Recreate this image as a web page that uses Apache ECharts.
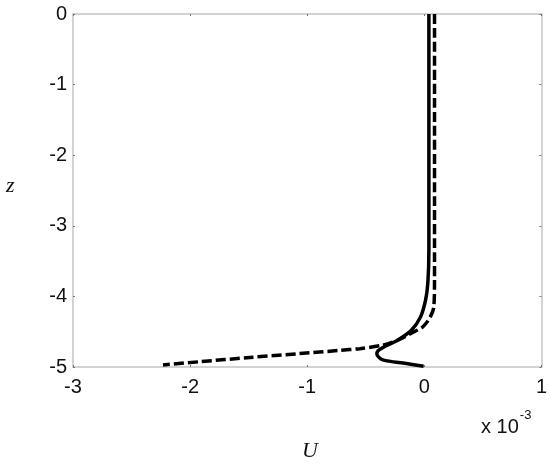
<!DOCTYPE html>
<html>
<head>
<meta charset="utf-8">
<script src="https://cdn.jsdelivr.net/npm/echarts@6/dist/echarts.min.js"></script>
<style>
  html, body { margin: 0; padding: 0; background: #fff; }
  #chart { width: 550px; height: 465px; }
</style>
</head>
<body>
<div id="chart"></div>
<script>
// U values are in units of 1e-3
const xTicks = [-3, -2, -1, 0, 1]
const yTicks = [-5, -4, -3, -2, -1, 0]

const solidU = [0.039, 0.039, 0.030, 0.011, -0.032, -0.111, -0.228, -0.339, -0.395, -0.405, -0.354, -0.154, -0.006]
const solidZ = [0, -3.34, -3.81, -4.05, -4.29, -4.48, -4.62, -4.71, -4.77, -4.82, -4.90, -4.95, -4.99]

const dashedU = [0.087, 0.087, 0.081, 0.051, -0.012, -0.111, -0.226, -0.354, -0.552, -0.723, -1.064, -1.49, -1.916, -2.232]
const dashedZ = [0, -3.77, -4.15, -4.29, -4.43, -4.52, -4.62, -4.69, -4.74, -4.765, -4.81, -4.865, -4.925, -4.97]

const chart = echarts.init(document.getElementById('chart'))

const axisLine = { show: true, onZero: false, lineStyle: { color: '#c4c4c4', width: 1.5 } }
const axisTick = { show: true, inside: true, length: 2, lineStyle: { color: '#777', width: 1 } }
const labelFont = { fontFamily: 'Liberation Sans', fontSize: 20, color: '#111' }

const option = {
  animation: false,
  grid: { left: 73, right: 8, top: 14, bottom: 98 },
  xAxis: [
    {
      type: 'value', min: xTicks[0], max: xTicks[xTicks.length - 1], interval: 1, position: 'bottom',
      axisLine, axisTick, splitLine: { show: false },
      axisLabel: { ...labelFont, margin: 10 },
    },
    {
      type: 'value', min: xTicks[0], max: xTicks[xTicks.length - 1], interval: 1, position: 'top',
      axisLine, axisTick, splitLine: { show: false }, axisLabel: { show: false },
    },
  ],
  yAxis: [
    {
      type: 'value', min: yTicks[0], max: yTicks[yTicks.length - 1], interval: 1, position: 'left',
      axisLine, axisTick, splitLine: { show: false },
      axisLabel: { ...labelFont, margin: 6 },
    },
    {
      type: 'value', min: yTicks[0], max: yTicks[yTicks.length - 1], interval: 1, position: 'right',
      axisLine, axisTick, splitLine: { show: false }, axisLabel: { show: false },
    },
  ],
  graphic: [
    {
      type: 'text', left: 481, top: 409,
      style: {
        text: '{a|x 10}{b|-3}',
        rich: {
          a: { fontFamily: 'Liberation Sans', fontSize: 20, fill: '#111', verticalAlign: 'bottom', padding: [8, 0, 0, 0] },
          b: { fontFamily: 'Liberation Sans', fontSize: 13, fill: '#111', verticalAlign: 'top', padding: [0, 0, 10, 1] },
        },
      },
    },
    {
      type: 'text', left: 6, top: 175,
      style: { text: 'z', font: 'italic 22px "Liberation Serif"', fill: '#111' },
    },
    {
      type: 'text', left: 302, top: 440,
      style: { text: 'U', font: 'italic 22px "Liberation Serif"', fill: '#111' },
    },
  ],
  series: [
    {
      type: 'line',
      data: solidU.map((u, i) => [u, solidZ[i]]),
      showSymbol: false,
      smooth: 0.3,
      lineStyle: { color: '#000', width: 3.5 },
    },
    {
      type: 'line',
      data: dashedU.map((u, i) => [u, dashedZ[i]]),
      showSymbol: false,
      smooth: 0.3,
      lineStyle: { color: '#000', width: 3.5, type: [10, 4] },
    },
  ],
}

chart.setOption(option)
</script>
</body>
</html>
